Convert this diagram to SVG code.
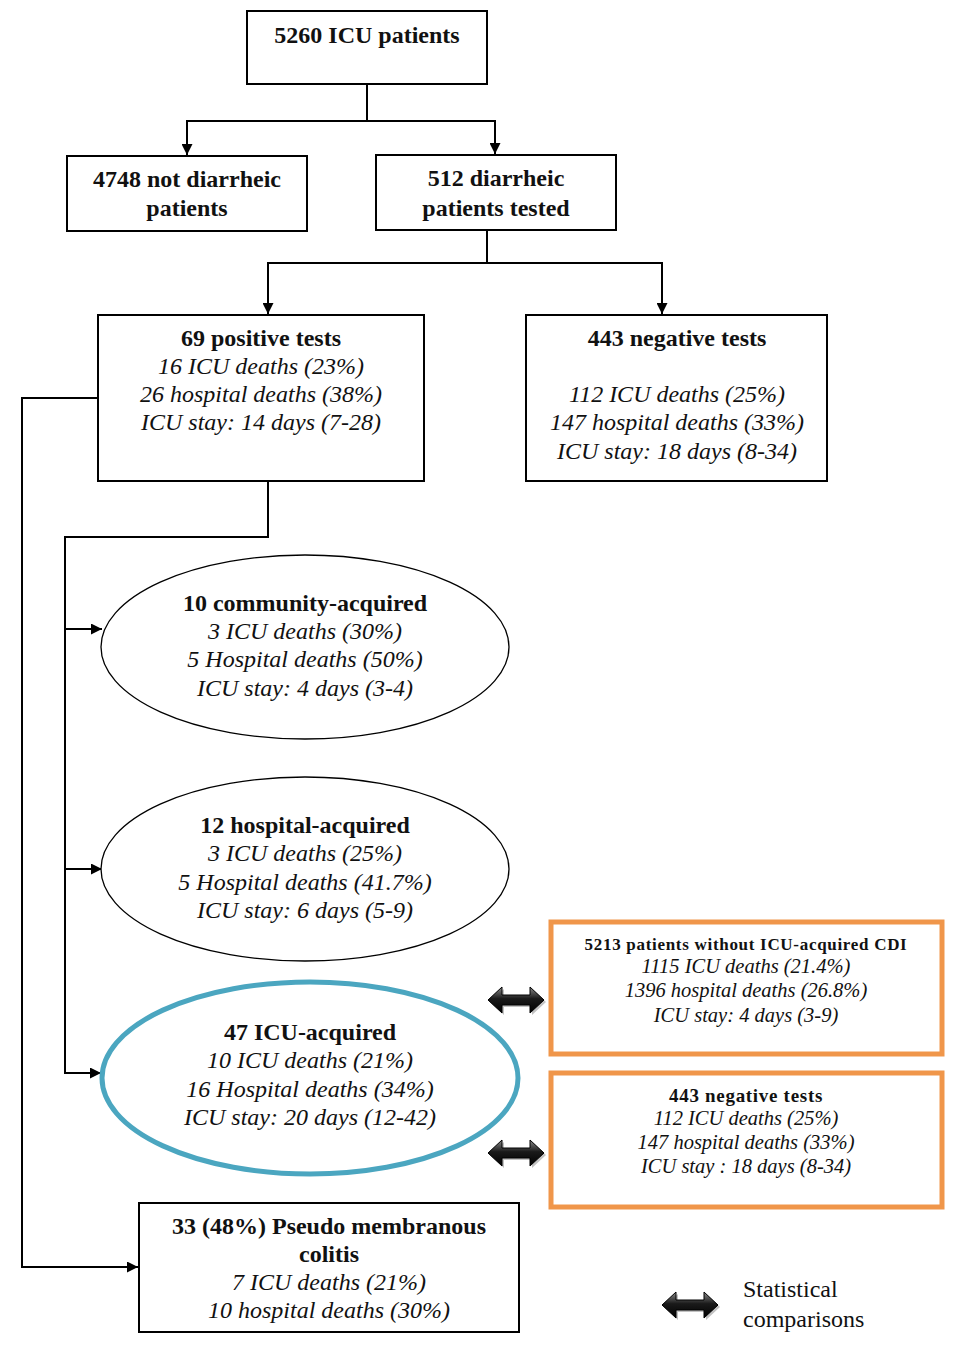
<svg xmlns="http://www.w3.org/2000/svg" width="965" height="1356" viewBox="0 0 965 1356">
<style>
text{font-family:"Liberation Serif","Times New Roman",serif;fill:#111;text-anchor:middle}
.b{font-weight:bold;font-size:24px}
.i{font-style:italic;font-size:24px}
.ob{font-weight:bold;font-size:17px;letter-spacing:0.7px}
.oi{font-style:italic;font-size:20.5px}
.box{fill:#fff;stroke:#000;stroke-width:2}
.ell{fill:#fff;stroke:#000;stroke-width:1.3}
.blue{fill:#fff;stroke:#4BA6C0;stroke-width:5}
.orange{fill:#fff;stroke:#F0964A;stroke-width:5}
.line{fill:none;stroke:#000;stroke-width:2}
.leg{font-size:24px;text-anchor:start}
</style>
<defs>
<marker id="ah" viewBox="0 0 10 10" refX="10" refY="5" markerWidth="11" markerHeight="11" orient="auto" markerUnits="userSpaceOnUse">
<path d="M0,0 L10,5 L0,10 Z" fill="#000"/>
</marker>
<linearGradient id="dg" x1="0" y1="0" x2="0" y2="1">
<stop offset="0" stop-color="#8a8a8a"/>
<stop offset="0.45" stop-color="#1a1a1a"/>
<stop offset="1" stop-color="#000"/>
</linearGradient>
<g id="darr">
<path d="M-28,0 L-14,-13 L-14,-5 L14,-5 L14,-13 L28,0 L14,13 L14,5 L-14,5 L-14,13 Z" transform="translate(2,2)" fill="#999" opacity="0.6"/>
<path d="M-28,0 L-14,-13 L-14,-5 L14,-5 L14,-13 L28,0 L14,13 L14,5 L-14,5 L-14,13 Z" fill="url(#dg)" stroke="#000" stroke-width="1"/>
</g>
</defs>
<rect width="965" height="1356" fill="#fff"/>

<g id="connectors">
<path class="line" d="M367,84 V121 H187 V155" marker-end="url(#ah)"/>
<path class="line" d="M367,121 H495 V154" marker-end="url(#ah)"/>
<path class="line" d="M487,230 V263 H268 V314" marker-end="url(#ah)"/>
<path class="line" d="M487,263 H662 V314" marker-end="url(#ah)"/>
<path class="line" d="M268,481 V537 H65 V1073 H101" marker-end="url(#ah)"/>
<path class="line" d="M65,629 H102" marker-end="url(#ah)"/>
<path class="line" d="M65,869 H102" marker-end="url(#ah)"/>
<path class="line" d="M98,398 H22 V1267 H138" marker-end="url(#ah)"/>
</g>

<g id="n5260">
<rect class="box" x="247" y="11" width="240" height="73"/>
<text class="b" x="367" y="43">5260 ICU patients</text>
</g>
<g id="n4748">
<rect class="box" x="67" y="156" width="240" height="75"/>
<text class="b" x="187" y="187">4748 not diarrheic</text>
<text class="b" x="187" y="216">patients</text>
</g>
<g id="n512">
<rect class="box" x="376" y="155" width="240" height="75"/>
<text class="b" x="496" y="186">512 diarrheic</text>
<text class="b" x="496" y="216">patients tested</text>
</g>
<g id="n69">
<rect class="box" x="98" y="315" width="326" height="166"/>
<text class="b" x="261" y="346">69 positive tests</text>
<text class="i" x="261" y="374">16 ICU deaths (23%)</text>
<text class="i" x="261" y="402">26 hospital deaths (38%)</text>
<text class="i" x="261" y="430">ICU stay: 14 days (7-28)</text>
</g>
<g id="n443">
<rect class="box" x="526" y="315" width="301" height="166"/>
<text class="b" x="677" y="346">443 negative tests</text>
<text class="i" x="677" y="402">112 ICU deaths (25%)</text>
<text class="i" x="677" y="430">147 hospital deaths (33%)</text>
<text class="i" x="677" y="459">ICU stay: 18 days (8-34)</text>
</g>
<g id="ncommunity">
<ellipse class="ell" cx="305" cy="647" rx="204" ry="92"/>
<text class="b" x="305" y="611">10 community-acquired</text>
<text class="i" x="305" y="639">3 ICU deaths (30%)</text>
<text class="i" x="305" y="667">5 Hospital deaths (50%)</text>
<text class="i" x="305" y="696">ICU stay: 4 days (3-4)</text>
</g>
<g id="nhospital">
<ellipse class="ell" cx="305" cy="869" rx="204" ry="92"/>
<text class="b" x="305" y="833">12 hospital-acquired</text>
<text class="i" x="305" y="861">3 ICU deaths (25%)</text>
<text class="i" x="305" y="890">5 Hospital deaths (41.7%)</text>
<text class="i" x="305" y="918">ICU stay: 6 days (5-9)</text>
</g>
<g id="nicu">
<ellipse class="blue" cx="310" cy="1078" rx="208" ry="96"/>
<text class="b" x="310" y="1040">47 ICU-acquired</text>
<text class="i" x="310" y="1068">10 ICU deaths (21%)</text>
<text class="i" x="310" y="1097">16 Hospital deaths (34%)</text>
<text class="i" x="310" y="1125">ICU stay: 20 days (12-42)</text>
</g>
<g id="npseudo">
<rect class="box" x="139" y="1203" width="380" height="129"/>
<text class="b" x="329" y="1234">33 (48%) Pseudo membranous</text>
<text class="b" x="329" y="1262">colitis</text>
<text class="i" x="329" y="1290">7 ICU deaths (21%)</text>
<text class="i" x="329" y="1318">10 hospital deaths (30%)</text>
</g>
<g id="n5213">
<rect class="orange" x="551" y="922" width="391" height="132"/>
<text class="ob" x="746" y="950">5213 patients without ICU-acquired CDI</text>
<text class="oi" x="746" y="973">1115 ICU deaths (21.4%)</text>
<text class="oi" x="746" y="997">1396 hospital deaths (26.8%)</text>
<text class="oi" x="746" y="1022">ICU stay: 4 days (3-9)</text>
</g>
<g id="n443b">
<rect class="orange" x="551" y="1073" width="391" height="134"/>
<text class="ob" x="746" y="1102" style="font-size:19px">443 negative tests</text>
<text class="oi" x="746" y="1125">112 ICU deaths (25%)</text>
<text class="oi" x="746" y="1149">147 hospital deaths (33%)</text>
<text class="oi" x="746" y="1173">ICU stay : 18 days (8-34)</text>
</g>
<g id="comparisons">
<use href="#darr" x="516" y="1000"/>
<use href="#darr" x="516" y="1153"/>
</g>
<g id="legend">
<use href="#darr" x="690" y="1305"/>
<text class="leg" x="743" y="1297">Statistical</text>
<text class="leg" x="743" y="1327">comparisons</text>
</g>
</svg>
